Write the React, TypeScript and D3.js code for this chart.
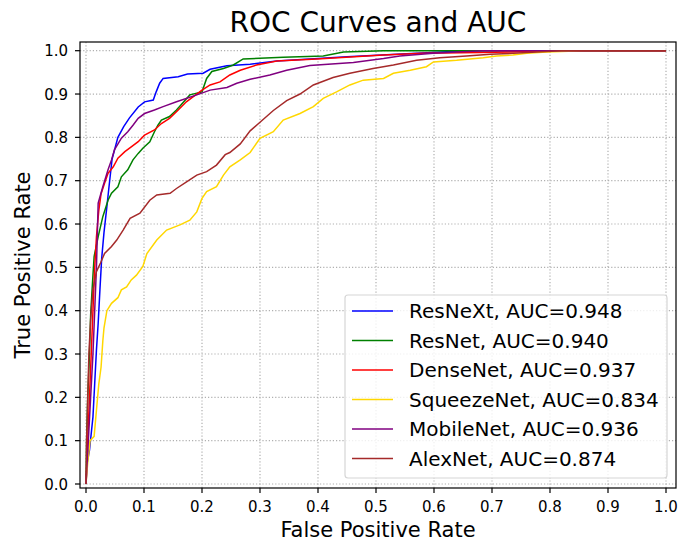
import * as d3 from "d3";
import React from "react";

// ROC points [fpr, tpr]
const resnext = [[0,0],[0.002,0.048],[0.006,0.078],[0.012,0.155],[0.015,0.232],[0.018,0.309],[0.021,0.371],[0.024,0.448],[0.027,0.52],[0.031,0.58],[0.036,0.64],[0.04,0.69],[0.045,0.75],[0.055,0.8],[0.065,0.825],[0.075,0.845],[0.09,0.87],[0.101,0.882],[0.116,0.886],[0.121,0.905],[0.127,0.925],[0.133,0.936],[0.159,0.94],[0.175,0.946],[0.202,0.948],[0.214,0.957],[0.243,0.965],[0.283,0.969],[0.329,0.976],[0.4,0.982],[0.45,0.986],[0.57,0.994],[0.656,1.0],[1,1]];
const resnet = [[0,0],[0.001,0.1],[0.003,0.2],[0.006,0.3],[0.008,0.39],[0.011,0.46],[0.014,0.525],[0.021,0.571],[0.029,0.617],[0.038,0.655],[0.044,0.671],[0.055,0.686],[0.061,0.709],[0.072,0.725],[0.081,0.748],[0.09,0.763],[0.098,0.775],[0.11,0.79],[0.118,0.813],[0.124,0.828],[0.13,0.84],[0.144,0.848],[0.156,0.863],[0.164,0.875],[0.179,0.898],[0.2,0.905],[0.208,0.936],[0.217,0.952],[0.237,0.959],[0.254,0.967],[0.271,0.981],[0.34,0.985],[0.409,0.988],[0.444,0.997],[0.513,1.0],[1,1]];
const densenet = [[0,0],[0.003,0.1],[0.006,0.2],[0.009,0.3],[0.012,0.4],[0.015,0.5],[0.018,0.57],[0.022,0.63],[0.026,0.67],[0.032,0.694],[0.038,0.717],[0.047,0.732],[0.055,0.752],[0.067,0.767],[0.078,0.778],[0.09,0.79],[0.101,0.805],[0.118,0.817],[0.13,0.832],[0.144,0.844],[0.159,0.863],[0.173,0.882],[0.2,0.909],[0.214,0.921],[0.231,0.928],[0.248,0.944],[0.266,0.955],[0.294,0.967],[0.329,0.976],[0.398,0.981],[0.513,0.99],[0.58,0.994],[0.68,0.996],[0.78,0.998],[0.86,1.0],[1,1]];
const squeezenet = [[0,0],[0.003,0.05],[0.007,0.1],[0.014,0.11],[0.018,0.17],[0.022,0.23],[0.026,0.27],[0.029,0.33],[0.031,0.36],[0.036,0.4],[0.044,0.417],[0.055,0.43],[0.061,0.448],[0.07,0.455],[0.078,0.471],[0.087,0.482],[0.098,0.502],[0.105,0.532],[0.122,0.563],[0.139,0.586],[0.162,0.598],[0.179,0.609],[0.191,0.628],[0.2,0.659],[0.208,0.675],[0.225,0.686],[0.237,0.713],[0.248,0.732],[0.266,0.748],[0.283,0.765],[0.3,0.798],[0.323,0.813],[0.34,0.84],[0.369,0.855],[0.392,0.871],[0.409,0.89],[0.432,0.905],[0.455,0.921],[0.478,0.932],[0.513,0.936],[0.53,0.948],[0.559,0.955],[0.587,0.963],[0.599,0.974],[0.639,0.978],[0.685,0.984],[0.708,0.988],[0.736,0.99],[0.76,0.994],[0.794,0.997],[0.857,1.0],[1,1]];
const mobilenet = [[0,0],[0.004,0.1],[0.008,0.2],[0.012,0.3],[0.015,0.4],[0.018,0.5],[0.02,0.6],[0.021,0.648],[0.029,0.686],[0.038,0.725],[0.044,0.748],[0.049,0.771],[0.061,0.798],[0.072,0.813],[0.081,0.828],[0.09,0.844],[0.101,0.855],[0.118,0.863],[0.133,0.871],[0.156,0.882],[0.191,0.898],[0.214,0.909],[0.243,0.915],[0.26,0.925],[0.283,0.934],[0.317,0.944],[0.346,0.955],[0.386,0.966],[0.461,0.973],[0.513,0.982],[0.541,0.988],[0.599,0.994],[0.639,0.997],[0.685,1.0],[1,1]];
const alexnet = [[0,0],[0.001,0.1],[0.003,0.2],[0.005,0.3],[0.008,0.38],[0.012,0.45],[0.018,0.49],[0.025,0.51],[0.032,0.532],[0.044,0.548],[0.053,0.563],[0.064,0.586],[0.076,0.613],[0.093,0.625],[0.11,0.655],[0.122,0.667],[0.145,0.671],[0.156,0.682],[0.174,0.698],[0.191,0.713],[0.208,0.721],[0.225,0.736],[0.24,0.76],[0.248,0.765],[0.266,0.785],[0.283,0.815],[0.3,0.835],[0.323,0.862],[0.346,0.885],[0.369,0.9],[0.392,0.921],[0.426,0.938],[0.455,0.948],[0.495,0.959],[0.53,0.967],[0.57,0.978],[0.61,0.984],[0.656,0.988],[0.697,0.992],[0.737,0.994],[0.777,0.997],[0.82,1.0],[1,1]];

const names = ["ResNeXt", "ResNet", "DenseNet", "SqueezeNet", "MobileNet", "AlexNet"];
const aucs = ["0.948", "0.940", "0.937", "0.834", "0.936", "0.874"];
const colors = ["blue", "green", "red", "gold", "purple", "brown"];
const curves = [resnext, resnet, densenet, squeezenet, mobilenet, alexnet];
const ticks = [0, 0.1, 0.2, 0.3, 0.4, 0.5, 0.6, 0.7, 0.8, 0.9, 1.0];

const W = 679;
const H = 542;
// axes frame
const box = { left: 80, right: 676, top: 42, bottom: 488 };
const font = "DejaVu Sans, sans-serif";

export default function App() {
  const x = d3.scaleLinear().domain([0, 1]).range([86, 666]);
  const y = d3.scaleLinear().domain([0, 1]).range([484, 50.7]);
  const line = d3
    .line<number[]>()
    .x((d) => x(d[0]))
    .y((d) => y(d[1]));

  const lg = { x: 345, y: 295, w: 322, h: 183, row: 29.5 };

  return (
    <svg
      width={W}
      height={H}
      style={{ position: "absolute", left: 0, top: 0, background: "white" }}
      fontFamily={font}
    >
      <text x={(box.left + box.right) / 2} y={32} fontSize={28} textAnchor="middle">
        ROC Curves and AUC
      </text>

      {/* grid */}
      <g stroke="#b0b0b0" strokeWidth={1.2} strokeDasharray="1.2,2">
        {ticks.map((t) => (
          <line key={"gx" + t} x1={x(t)} x2={x(t)} y1={box.top} y2={box.bottom} />
        ))}
        {ticks.map((t) => (
          <line key={"gy" + t} x1={box.left} x2={box.right} y1={y(t)} y2={y(t)} />
        ))}
      </g>

      {/* curves */}
      <g fill="none" strokeWidth={1.5}>
        {curves.map((c, i) => (
          <path key={i} d={line(c) || ""} stroke={colors[i]} />
        ))}
      </g>

      {/* frame */}
      <rect
        x={box.left}
        y={box.top}
        width={box.right - box.left}
        height={box.bottom - box.top}
        fill="none"
        stroke="black"
        strokeWidth={1.2}
      />

      {/* x axis */}
      <g fontSize={15} textAnchor="middle">
        {ticks.map((t) => (
          <g key={"xt" + t}>
            <line x1={x(t)} x2={x(t)} y1={box.bottom} y2={box.bottom + 5} stroke="black" strokeWidth={1.2} />
            <text x={x(t)} y={512}>{t.toFixed(1)}</text>
          </g>
        ))}
      </g>
      {/* y axis */}
      <g fontSize={15} textAnchor="end">
        {ticks.map((t) => (
          <g key={"yt" + t}>
            <line x1={box.left - 5} x2={box.left} y1={y(t)} y2={y(t)} stroke="black" strokeWidth={1.2} />
            <text x={68} y={y(t) + 5.5}>{t.toFixed(1)}</text>
          </g>
        ))}
      </g>

      <text x={(box.left + box.right) / 2} y={537} fontSize={21} textAnchor="middle">
        False Positive Rate
      </text>
      <text
        transform={`translate(30,${(box.top + box.bottom) / 2}) rotate(-90)`}
        fontSize={21}
        textAnchor="middle"
      >
        True Positive Rate
      </text>

      {/* legend */}
      <g>
        <rect
          x={lg.x}
          y={lg.y}
          width={lg.w}
          height={lg.h}
          rx={3}
          fill="white"
          fillOpacity={0.8}
          stroke="#d6d6d6"
          strokeWidth={1.2}
        />
        {names.map((n, i) => {
          const cy = lg.y + 16 + i * lg.row;
          return (
            <g key={n}>
              <line x1={lg.x + 7} x2={lg.x + 48} y1={cy} y2={cy} stroke={colors[i]} strokeWidth={1.5} />
              <text x={lg.x + 64} y={cy + 7.3} fontSize={20}>
                {`${n}, AUC=${aucs[i]}`}
              </text>
            </g>
          );
        })}
      </g>
    </svg>
  );
}
